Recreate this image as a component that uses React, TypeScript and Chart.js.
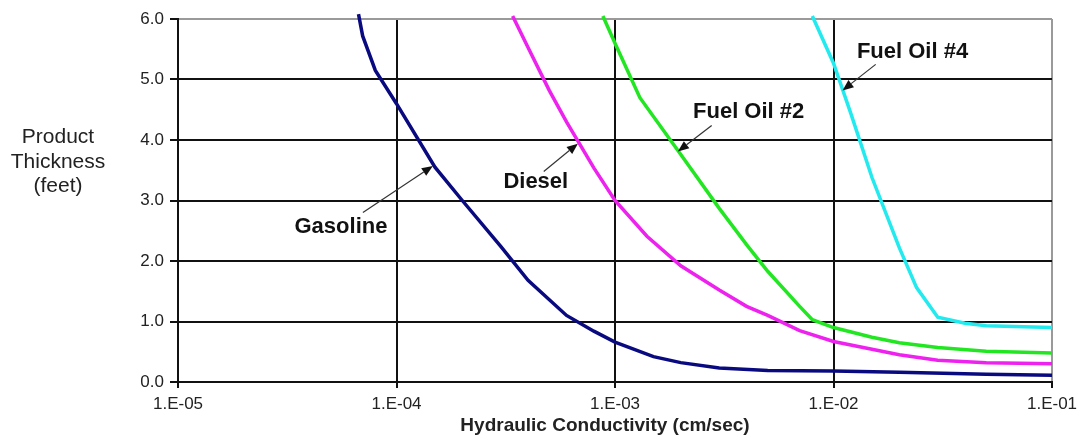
import React, { useEffect, useRef } from "react";
import { Chart, registerables } from "chart.js";

Chart.register(...registerables);

// ---- Data ----
const xTickValues = [1e-5, 1e-4, 1e-3, 1e-2, 1e-1];
const xTickLabels = ["1.E-05", "1.E-04", "1.E-03", "1.E-02", "1.E-01"];

const gasolineK = [6.7e-5, 7e-5, 8e-5, 1e-4, 1.5e-4, 2e-4, 3e-4, 4e-4, 6e-4, 8e-4, 1e-3, 1.5e-3, 2e-3, 3e-3, 5e-3, 1e-2, 2e-2, 5e-2, 1e-1];
const gasolineFt = [6.08, 5.72, 5.15, 4.6, 3.55, 3.0, 2.24, 1.68, 1.1, 0.84, 0.66, 0.42, 0.32, 0.23, 0.19, 0.18, 0.16, 0.13, 0.11];

const dieselK = [3.4e-4, 4e-4, 5e-4, 6e-4, 8e-4, 1e-3, 1.4e-3, 2e-3, 3e-3, 4e-3, 5e-3, 7e-3, 1e-2, 2e-2, 3e-2, 5e-2, 1e-1];
const dieselFt = [6.05, 5.53, 4.82, 4.3, 3.54, 3.0, 2.41, 1.92, 1.52, 1.25, 1.1, 0.85, 0.67, 0.45, 0.36, 0.32, 0.3];

const fuelOil2K = [8.8e-4, 1e-3, 1.3e-3, 2e-3, 3e-3, 4e-3, 5e-3, 7e-3, 8e-3, 1e-2, 1.5e-2, 2e-2, 3e-2, 5e-2, 1e-1];
const fuelOil2Ft = [6.05, 5.6, 4.7, 3.76, 2.87, 2.27, 1.83, 1.25, 1.03, 0.9, 0.74, 0.65, 0.57, 0.51, 0.48];

const fuelOil4K = [8e-3, 1e-2, 1.2e-2, 1.5e-2, 2e-2, 2.4e-2, 3e-2, 4e-2, 5e-2, 1e-1];
const fuelOil4Ft = [6.05, 5.27, 4.44, 3.38, 2.22, 1.56, 1.07, 0.97, 0.93, 0.9];

// Annotation labels and arrows (in data coordinates)
const noteLabels = ["Gasoline", "Diesel", "Fuel Oil #2", "Fuel Oil #4"];
const noteLabelK = [5.57e-5, 4.34e-4, 4.09e-3, 2.3e-2];
const noteLabelFt = [2.47, 3.21, 4.37, 5.35];
const arrowFromK = [7.02e-5, 4.72e-4, 2.77e-3, 1.56e-2];
const arrowFromFt = [2.8, 3.48, 4.24, 5.25];
const arrowToK = [1.467e-4, 6.76e-4, 1.94e-3, 1.1e-2];
const arrowToFt = [3.57, 3.94, 3.81, 4.82];

const yTitleLines = ["Product", "Thickness", "(feet)"];
const xTitle = "Hydraulic Conductivity (cm/sec)";

const FONT = "'Liberation Sans', Arial, Helvetica, sans-serif";

const toPoints = (ks: number[], fts: number[]) => ks.map((k, i) => ({ x: k, y: fts[i] }));

const textPlugin = {
  id: "textPlugin",
  afterDraw(chart: any) {
    const ctx = chart.ctx as CanvasRenderingContext2D;
    const xs = chart.scales.x;
    const ys = chart.scales.y;
    const area = chart.chartArea;
    ctx.save();

    // Arrows
    for (let i = 0; i < noteLabels.length; i++) {
      const x1 = xs.getPixelForValue(arrowFromK[i]);
      const y1 = ys.getPixelForValue(arrowFromFt[i]);
      const x2 = xs.getPixelForValue(arrowToK[i]);
      const y2 = ys.getPixelForValue(arrowToFt[i]);
      const ang = Math.atan2(y2 - y1, x2 - x1);
      const headLen = 11;
      const headW = 4.5;
      const bx = x2 - headLen * Math.cos(ang);
      const by = y2 - headLen * Math.sin(ang);
      ctx.strokeStyle = "#333";
      ctx.lineWidth = 1.2;
      ctx.beginPath();
      ctx.moveTo(x1, y1);
      ctx.lineTo(bx, by);
      ctx.stroke();
      ctx.fillStyle = "#111";
      ctx.beginPath();
      ctx.moveTo(x2, y2);
      ctx.lineTo(bx + headW * Math.sin(ang), by - headW * Math.cos(ang));
      ctx.lineTo(bx - headW * Math.sin(ang), by + headW * Math.cos(ang));
      ctx.closePath();
      ctx.fill();
    }

    // Labels
    ctx.fillStyle = "#111";
    ctx.font = `bold 22px ${FONT}`;
    ctx.textAlign = "center";
    ctx.textBaseline = "alphabetic";
    for (let i = 0; i < noteLabels.length; i++) {
      ctx.fillText(noteLabels[i], xs.getPixelForValue(noteLabelK[i]), ys.getPixelForValue(noteLabelFt[i]));
    }

    // Y title (horizontal, three lines)
    ctx.fillStyle = "#222";
    ctx.font = `21px ${FONT}`;
    const yMid = (area.top + area.bottom) / 2;
    const baselines = [yMid - 57.5, yMid - 33, yMid - 8.5];
    yTitleLines.forEach((t, i) => ctx.fillText(t, 58, baselines[i]));

    // X title
    ctx.font = `bold 19px ${FONT}`;
    ctx.fillStyle = "#222";
    ctx.fillText(xTitle, (area.left + area.right) / 2 - 10, area.bottom + 48.5);

    ctx.restore();
  },
};

export default function App() {
  const canvasRef = useRef<HTMLCanvasElement | null>(null);

  useEffect(() => {
    if (!canvasRef.current) return;
    const common = { pointRadius: 0, borderWidth: 3.5, tension: 0, fill: false, clip: 6 };
    const chart = new Chart(canvasRef.current, {
      type: "line",
      data: {
        datasets: [
          { label: "Gasoline", data: toPoints(gasolineK, gasolineFt), borderColor: "#0a0a80", ...common },
          { label: "Diesel", data: toPoints(dieselK, dieselFt), borderColor: "#ee22ee", ...common },
          { label: "Fuel Oil #2", data: toPoints(fuelOil2K, fuelOil2Ft), borderColor: "#22e622", ...common },
          { label: "Fuel Oil #4", data: toPoints(fuelOil4K, fuelOil4Ft), borderColor: "#22eaee", ...common },
        ] as any,
      },
      options: {
        animation: false,
        responsive: true,
        maintainAspectRatio: false,
        layout: { padding: { left: 0, top: 19, right: 26, bottom: 0 } },
        plugins: { legend: { display: false }, tooltip: { enabled: false } },
        scales: {
          x: {
            type: "logarithmic",
            min: 1e-5,
            max: 1e-1,
            afterBuildTicks: (scale: any) => {
              scale.ticks = xTickValues.map((v) => ({ value: v }));
            },
            afterFit: (scale: any) => {
              scale.height = 62;
              scale.paddingLeft = 0;
              scale.paddingRight = 0;
            },
            ticks: {
              autoSkip: false,
              maxRotation: 0,
              padding: 6,
              color: "#222",
              font: { family: FONT, size: 17 },
              callback: (_v: any, i: number) => xTickLabels[i],
            },
            grid: {
              color: (c: any) => (c.tick && c.tick.value === 0.1 ? "#9a9a9a" : "#111"),
              lineWidth: 2,
              tickLength: 6,
              tickColor: "#111",
            },
            border: { display: true, color: "#111", width: 2 },
          },
          y: {
            type: "linear",
            min: 0,
            max: 6,
            afterFit: (scale: any) => {
              scale.width = 178;
              scale.paddingTop = 0;
              scale.paddingBottom = 0;
            },
            ticks: {
              stepSize: 1,
              padding: 6,
              color: "#222",
              font: { family: FONT, size: 17 },
              callback: (v: any) => Number(v).toFixed(1),
            },
            grid: {
              color: (c: any) => (c.tick && c.tick.value === 6 ? "#9a9a9a" : "#111"),
              lineWidth: 2,
              tickLength: 8,
              tickColor: "#111",
            },
            border: { display: true, color: "#111", width: 2 },
          },
        },
      } as any,
      plugins: [textPlugin],
    });
    return () => chart.destroy();
  }, []);

  return (
    <div style={{ position: "fixed", left: 0, top: 0, width: 1078, height: 444, background: "#fff" }}>
      <canvas ref={canvasRef} />
    </div>
  );
}
